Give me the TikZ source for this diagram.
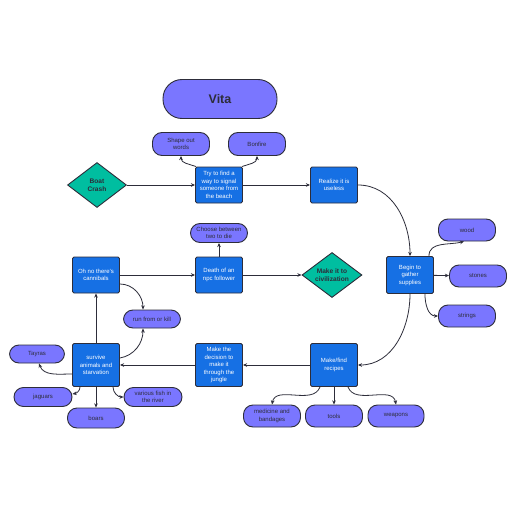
\documentclass[tikz,border=0pt]{standalone}
\usepackage{fontspec}
\setmainfont{Liberation Sans}
\usepackage{xcolor}
\usetikzlibrary{shapes.geometric, arrows.meta}
\definecolor{boxblue}{RGB}{22,112,228}
\definecolor{pillviolet}{RGB}{122,118,255}
\definecolor{decteal}{RGB}{0,190,160}
\definecolor{edgegray}{RGB}{45,45,58}

\begin{document}
\begin{tikzpicture}[x=1pt, y=-1pt,
  box/.style={rectangle, draw=edgegray, fill=boxblue, rounded corners=1.5pt,
              minimum width=47pt, minimum height=36pt, line width=0.9pt,
              align=center, text=white, inner sep=1pt,
              font=\fontsize{6}{7.5}\selectfont},
  pill/.style={rectangle, draw=edgegray, fill=pillviolet, rounded corners=9.5pt,
               minimum width=57pt, minimum height=20pt, line width=0.9pt,
               align=center, text=edgegray, inner sep=1pt,
               font=\fontsize{6}{7.6}\selectfont},
  dec/.style={diamond, draw=edgegray, fill=decteal, aspect=1.3,
              minimum width=59pt, minimum height=45pt, line width=0.9pt,
              align=center, text=edgegray, inner sep=0pt,
              font=\bfseries\fontsize{6.6}{8}\selectfont},
  titlepill/.style={rectangle, draw=edgegray, fill=pillviolet, rounded corners=19pt,
                    minimum width=114pt, minimum height=39pt, line width=0.9pt,
                    text=edgegray, font=\bfseries\fontsize{12.5}{14}\selectfont},
  arr/.style={-{Stealth[length=4.2pt, width=3.6pt]}, edgegray, line width=0.8pt},
]
\useasboundingbox[fill=white] (0,0) rectangle (516,516);

% Title
\node[titlepill] at (220,99) (vita) {Vita};

% Top row
\node[pill, minimum height=23pt] at (181,144) (shape)   {Shape out\\words};
\node[pill, minimum height=23pt] at (257,144) (bonfire) {Bonfire};
\node[dec]  at (97,185)  (crash)   {Boat\\Crash};
\node[box]  at (219,185) (signal)  {Try to find a\\way to signal\\someone from\\the beach};
\node[box]  at (334,185) (useless) {Realize it is\\useless};

% Middle row
\node[pill, minimum height=19pt] at (219,233) (choose) {Choose between\\two to die};
\node[box]  at (96,275)  (cannibals) {Oh no there's\\cannibals};
\node[box]  at (219,275) (death)     {Death of an\\npc follower};
\node[dec, minimum width=60pt] at (332,275) (civil) {Make it to\\civilization};
\node[box, minimum height=37pt] at (410,275) (gather) {Begin to\\gather\\supplies};
\node[pill, minimum height=22pt] at (467,230) (wood)    {wood};
\node[pill, minimum height=22pt] at (478,276) (stones)  {stones};
\node[pill, minimum height=22pt] at (467,316) (strings) {strings};
\node[pill, minimum height=18pt] at (152,319) (run)     {run from or kill};

% Bottom row
\node[box, minimum height=43pt] at (96,365)  (survive)  {survive\\animals and\\starvation};
\node[box, minimum height=43pt] at (219,365) (decision) {Make the\\decision to\\make it\\through the\\jungle};
\node[box, minimum height=43pt] at (334,365) (recipes)  {Make/find\\recipes};
\node[pill, minimum width=55pt, minimum height=18pt] at (37,354)  (tayras)  {Tayras};
\node[pill, minimum width=58pt, minimum height=19pt] at (43,397)  (jaguars) {jaguars};
\node[pill] at (96,418) (boars) {boars};
\node[pill, minimum width=58pt, minimum height=19pt] at (153,397) (fish) {various fish in\\the river};
\node[pill, minimum height=22pt] at (272,416) (medicine) {medicine and\\bandages};
\node[pill, minimum height=22pt] at (334,416) (tools)    {tools};
\node[pill, minimum width=56pt, minimum height=22pt] at (396,416) (weapons) {weapons};

% Crash -> signal -> useless -> gather
\draw[arr] (crash) -- (signal);
\draw[arr] ([xshift=1pt]signal.north west) to[out=160, in=-90] (shape.south);
\draw[arr] ([xshift=-1pt]signal.north east) to[out=20, in=-90] (bonfire.south);
\draw[arr] (signal) -- (useless);
\draw[arr] (useless.east) to[out=0, in=90] (gather.north);

% Supplies
\draw[arr] ([xshift=-5pt]gather.north east) to[out=90, in=195] ([xshift=-3pt]wood.south);
\draw[arr] (gather) -- (stones);
\draw[arr] ([xshift=-9pt]gather.south east) to[out=-90, in=180] (strings.west);
\draw[arr] (gather.south) to[out=-90, in=0] (recipes.east);

% Recipes
\draw[arr] ([xshift=-14pt]recipes.south) to[out=-110, in=80] (medicine.north);
\draw[arr] (recipes) -- (tools);
\draw[arr] ([xshift=14pt]recipes.south) to[out=-70, in=100] (weapons.north);
\draw[arr] (recipes) -- (decision);
\draw[arr] (decision) -- (survive);

% Survive
\draw[arr] (survive) -- (cannibals);
\draw[arr] ([yshift=-9pt]survive.west) to[out=180, in=-70] ([xshift=2pt]tayras.south);
\draw[arr] ([xshift=-16pt]survive.south) to[out=-90, in=10] ([yshift=3pt]jaguars.east);
\draw[arr] (survive) -- (boars);
\draw[arr] ([xshift=17pt]survive.south) to[out=-90, in=180] (fish.west);
\draw[arr] ([yshift=7pt]survive.east) to[out=10, in=-90] ([xshift=-9pt]run.south);

% Cannibals
\draw[arr] ([yshift=-9pt]cannibals.east) to[out=0, in=90] ([xshift=-9pt]run.north);
\draw[arr] (cannibals) -- (death);
\draw[arr] (death) -- (choose);
\draw[arr] (death) -- (civil);

\end{tikzpicture}
\end{document}
